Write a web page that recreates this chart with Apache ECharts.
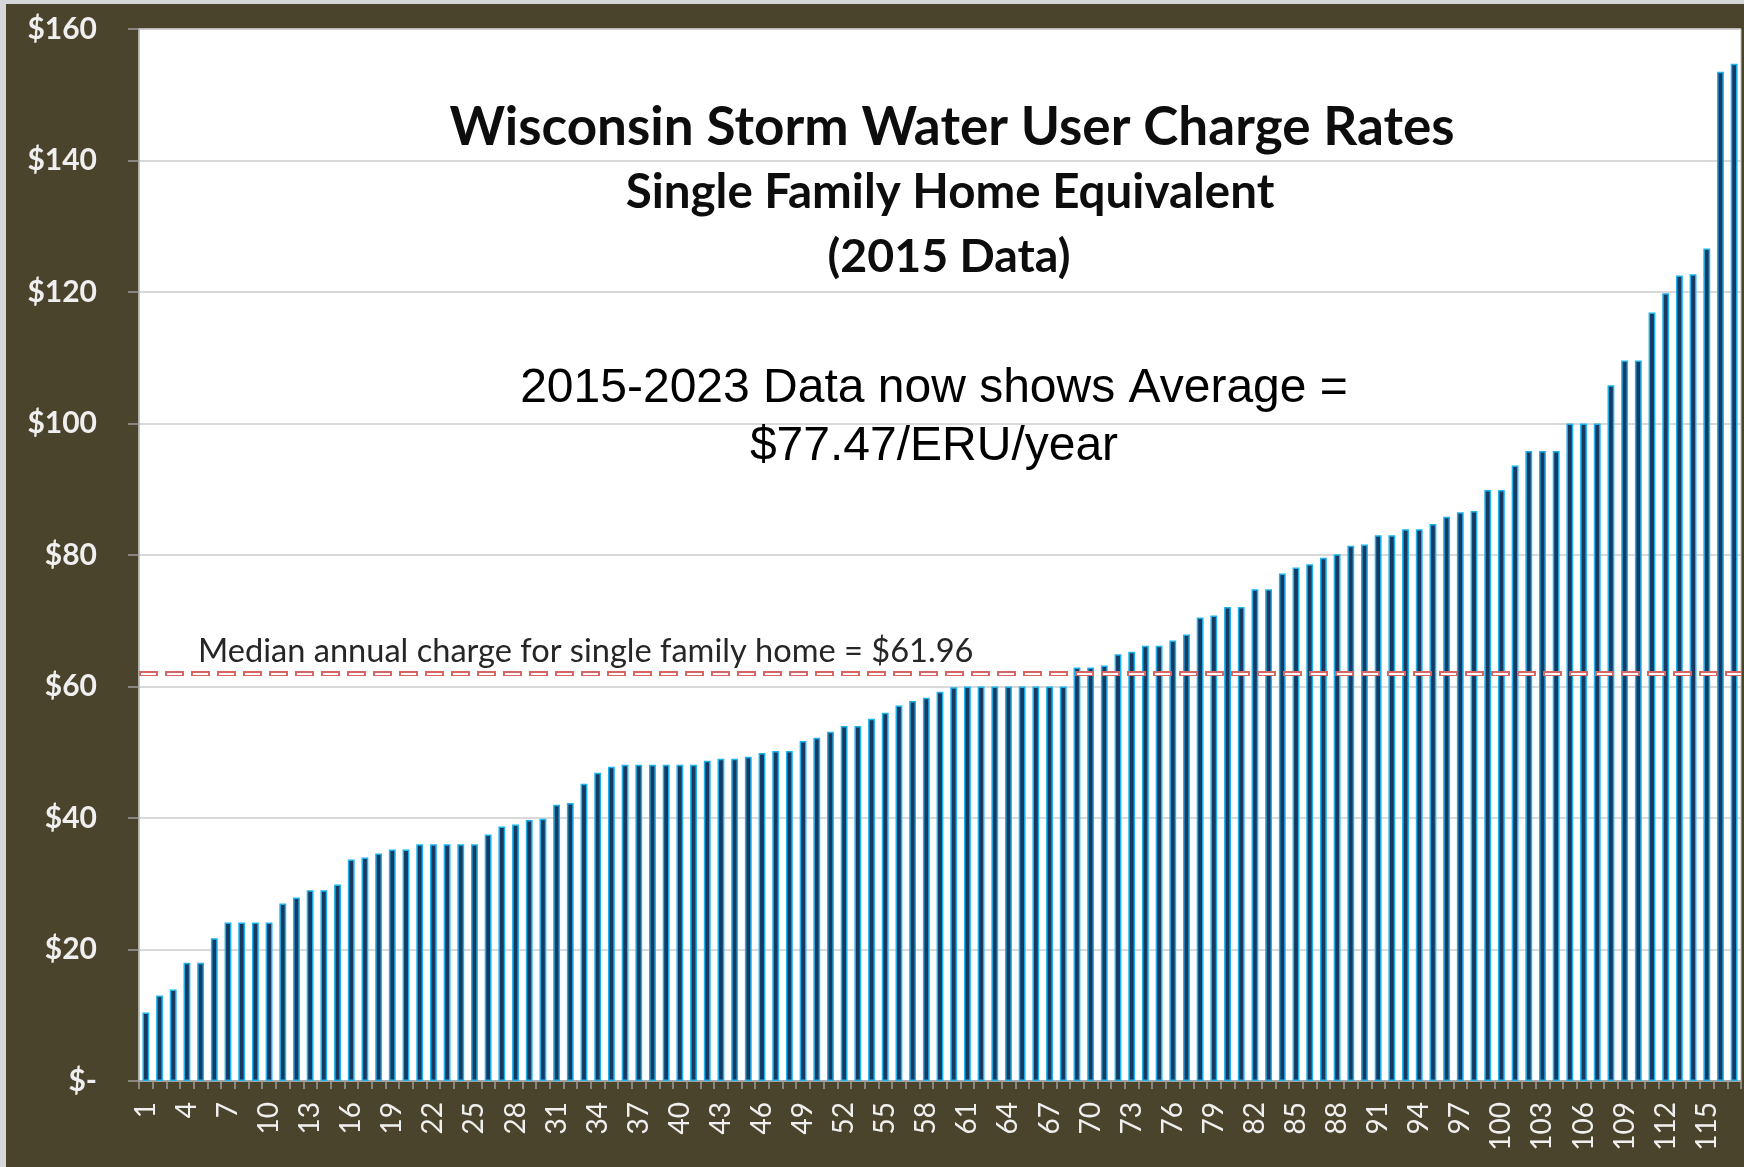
<!DOCTYPE html>
<html>
<head>
<meta charset="utf-8">
<script src="https://cdn.jsdelivr.net/npm/echarts@6/dist/echarts.min.js"></script>
<style>
html,body{margin:0;padding:0;background:#d6d7d9;}
#wrap{position:relative;width:1744px;height:1167px;background:#d6d7d9;overflow:hidden;}
#chart{position:absolute;left:6px;top:4px;width:1738px;height:1163px;}
</style>
</head>
<body>
<div id="wrap"><div id="chart"></div></div>
<script>
// Annual storm water charge per single family home equivalent, sorted (2015 data)
const charges = [
  10.4, 13.0, 13.9, 18.0, 18.0, 21.7, 24.1, 24.1, 24.1, 24.1,
  27.0, 27.9, 29.0, 29.0, 29.9, 33.7, 34.0, 34.6, 35.2, 35.2,
  36.0, 36.0, 36.0, 36.0, 36.0, 37.5, 38.7, 39.0, 39.7, 39.9,
  42.0, 42.3, 45.2, 46.9, 47.8, 48.1, 48.1, 48.1, 48.1, 48.1,
  48.1, 48.7, 49.0, 49.0, 49.3, 49.9, 50.2, 50.2, 51.7, 52.2,
  53.1, 54.0, 54.0, 55.1, 56.0, 57.1, 57.8, 58.3, 59.2, 59.9,
  60.0, 60.0, 60.0, 60.0, 60.0, 60.0, 60.0, 60.0, 62.9, 62.9,
  63.2, 64.9, 65.3, 66.2, 66.2, 67.0, 67.9, 70.5, 70.8, 72.1,
  72.1, 74.8, 74.8, 77.2, 78.1, 78.6, 79.6, 80.1, 81.4, 81.6,
  83.0, 83.0, 83.9, 83.9, 84.7, 85.8, 86.5, 86.7, 89.9, 89.9,
  93.6, 95.8, 95.8, 95.8, 100.0, 100.0, 100.0, 105.8, 109.6, 109.6,
  116.9, 119.8, 122.5, 122.7, 126.6, 153.5, 154.7
];
const categories = charges.map((_, i) => String(i + 1));
const medianCharge = 61.96;
const yMin = 0, yMax = 160, yStep = 20;
const titleLines = ['Wisconsin Storm Water User Charge Rates', 'Single Family Home Equivalent', '(2015 Data)'];
const noteLines = ['2015-2023 Data now shows Average =', '$77.47/ERU/year'];
const medianLabel = 'Median annual charge for single family home = $61.96';

const chart = echarts.init(document.getElementById('chart'));
const option = {
  backgroundColor: '#4a442d',
  animation: false,
  grid: {
    left: 133, right: 3, top: 25, bottom: 86,
    show: true, backgroundColor: '#ffffff', borderColor: '#bdbdbd', borderWidth: 1
  },
  xAxis: {
    type: 'category',
    data: categories,
    axisLine: { lineStyle: { color: '#9c9c9c', width: 1.5 } },
    axisTick: { show: true, interval: 0, length: 8, lineStyle: { color: '#9c9c9c', width: 1.5 } },
    axisLabel: {
      interval: 2, rotate: 90, margin: 21,
      color: '#efefef', fontFamily: 'Lato', fontSize: 28
    }
  },
  yAxis: {
    type: 'value', min: yMin, max: yMax, interval: yStep,
    axisLine: { show: true, lineStyle: { color: '#bdbdbd', width: 1.5 } },
    axisTick: { show: true, length: 11, lineStyle: { color: '#9c9c9c', width: 1.5 } },
    splitLine: { lineStyle: { color: '#cdcdcd', width: 1.5 } },
    axisLabel: {
      margin: 42, color: '#efefef', fontFamily: 'Lato', fontWeight: 'bold', fontSize: 30,
      formatter: v => (v === 0 ? '$-' : '$' + v)
    }
  },
  series: [{
    type: 'bar',
    data: charges,
    barCategoryGap: '50%',
    itemStyle: { color: '#1a3960', borderColor: '#1db2ec', borderWidth: 1.5 },
    markLine: {
      silent: true, symbol: 'none', label: { show: false },
      data: [
        { yAxis: medianCharge, lineStyle: { color: '#d96563', width: 5, type: [19, 7], cap: 'butt' } },
        { yAxis: medianCharge, lineStyle: { color: '#ffffff', width: 2, type: [15, 11], dashOffset: -2, cap: 'butt' } }
      ]
    }
  }],
  graphic: [
    { type: 'text', x: 946, y: 124, z: 100, style: { text: titleLines[0], font: 'bold 53px Lato', fill: '#0d0d0d', textAlign: 'center', textVerticalAlign: 'middle' } },
    { type: 'text', x: 944, y: 189, z: 100, style: { text: titleLines[1], font: 'bold 47.5px Lato', fill: '#0d0d0d', textAlign: 'center', textVerticalAlign: 'middle' } },
    { type: 'text', x: 943, y: 253, z: 100, style: { text: titleLines[2], font: 'bold 46.5px Lato', fill: '#0d0d0d', textAlign: 'center', textVerticalAlign: 'middle' } },
    { type: 'text', x: 928, y: 385, z: 100, style: { text: noteLines[0], font: '48px "Liberation Sans"', fill: '#000000', textAlign: 'center', textVerticalAlign: 'middle' } },
    { type: 'text', x: 928, y: 443, z: 100, style: { text: noteLines[1], font: '48px "Liberation Sans"', fill: '#000000', textAlign: 'center', textVerticalAlign: 'middle' } },
    { type: 'text', x: 192, y: 647, z: 100, style: { text: medianLabel, font: '32.6px Lato', fill: '#262626', textAlign: 'left', textVerticalAlign: 'middle' } }
  ]
};
chart.setOption(option);
</script>
</body>
</html>
